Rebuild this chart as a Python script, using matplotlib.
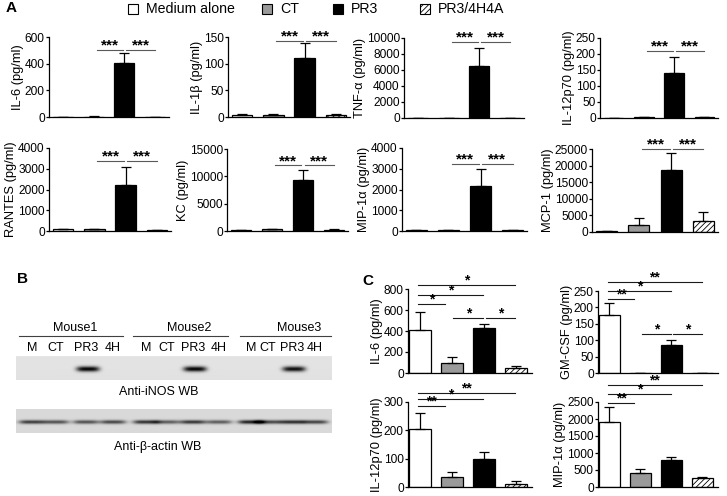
import numpy as np
import matplotlib
matplotlib.use("Agg")
import matplotlib.pyplot as plt
from matplotlib.patches import Rectangle

plt.rcParams['font.family'] = ['Liberation Sans', 'DejaVu Sans']
plt.rcParams['hatch.linewidth'] = 0.6
plt.rcParams['axes.linewidth'] = 0.9

W, H = 727, 496

groups = ['Medium alone', 'CT', 'PR3', 'PR3/4H4A']

# panel A: mean and upper error (pg/ml)
il6_a = [2, 3, 405, 2]
il6_a_err = [1, 1, 75, 1]
il1b_a = [4, 4, 111, 3]
il1b_a_err = [2, 2, 27, 2]
tnf_a = [40, 40, 6450, 30]
tnf_a_err = [10, 10, 2250, 10]
il12_a = [1, 2, 142, 2]
il12_a_err = [0.5, 1, 48, 1]
rantes_a = [100, 80, 2200, 50]
rantes_a_err = [20, 20, 900, 20]
kc_a = [100, 300, 9400, 250]
kc_a_err = [30, 100, 1800, 80]
mip_a = [50, 50, 2150, 40]
mip_a_err = [10, 10, 850, 10]
mcp_a = [300, 2200, 18600, 3200]
mcp_a_err = [100, 2100, 5200, 2700]
# height of the two "***" lines in each panel A plot
sig_a = [505, 143, 9500, 209, 3370, 12000, 3230, 25000]

# panel C
il6_c = [405, 95, 430, 50]
il6_c_err = [180, 55, 40, 15]
gmcsf_c = [178, 0, 85, 0]
gmcsf_c_err = [34, 0, 15, 0]
il12_c = [203, 35, 98, 10]
il12_c_err = [57, 17, 24, 10]
mip_c = [1900, 420, 800, 260]
mip_c_err = [450, 110, 70, 40]
# (from group, to group, level, stars)
il6_c_sig = [(0, 3, 838, '*'), (0, 2, 743, '*'), (0, 1, 657, '*'), (1, 2, 524, '*'), (2, 3, 524, '*')]
gmcsf_c_sig = [(0, 3, 277, '**'), (0, 2, 250, '*'), (0, 1, 226, '**'), (1, 2, 119, '*'), (2, 3, 119, '*')]
il12_c_sig = [(0, 3, 332, '**'), (0, 2, 311, '*'), (0, 1, 286, '**')]
mip_c_sig = [(0, 3, 3000, '**'), (0, 2, 2735, '*'), (0, 1, 2470, '**')]

# panel B: western blot band strengths per lane
lane_names = ['M', 'CT', 'PR3', '4H'] * 3
mice = ['Mouse1', 'Mouse2', 'Mouse3']
inos_band = [0, 0, 1, 0, 0, 0, 1, 0, 0, 0, 0.95, 0]
actin_band = [0.75, 0.65, 0.65, 0.7, 0.8, 0.6, 0.78, 0.6, 0.88, 0.7, 0.82, 0.72]

face = ['white', '#9a9a9a', 'black', 'white']
hatch = [None, None, None, '//////']

fig = plt.figure(figsize=(W / 100, H / 100), dpi=100)

# overlay in pixel coordinates for panel letters, legend and blot
ov = fig.add_axes([0, 0, 1, 1])
ov.patch.set_visible(False)
ov.axis('off')


def px_axes(x0, top, x1, bottom):
    return fig.add_axes([x0 / W, 1 - bottom / H, (x1 - x0) / W, (bottom - top) / H])


def bar_plot(box, vals, errs, yticks, ylabel, xlim, width=0.65):
    ax = px_axes(*box)
    x = np.arange(4)
    bars = ax.bar(x, vals, width=width, color=face, edgecolor='k', linewidth=0.9, zorder=2)
    for b, h in zip(bars, hatch):
        if h:
            b.set_hatch(h)
    ax.errorbar(x, vals, yerr=[np.zeros(4), errs], fmt='none', ecolor='k',
                elinewidth=0.9, capsize=3.6, capthick=0.9, zorder=3)
    ax.set_ylim(0, yticks[-1])
    ax.set_yticks(yticks)
    ax.set_xlim(*xlim)
    ax.set_xticks([])
    ax.spines['top'].set_visible(False)
    ax.spines['right'].set_visible(False)
    ax.tick_params(axis='y', length=2.3, width=0.9, pad=0.8, labelsize=8.6)
    ax.set_ylabel(ylabel, fontsize=9.3, labelpad=0.6)
    return ax


def stars(ax, x0, x1, y, label, color='0.25', size=9):
    ax.plot([x0, x1], [y, y], color=color, lw=0.8, clip_on=False)
    ax.annotate(label, xy=((x0 + x1) / 2, y), xytext=(0, 0.3), textcoords='offset points',
                ha='center', va='baseline', fontsize=size, fontweight='bold', annotation_clip=False)


# ---- panel A
a_xlim = (-0.45, 3.45)
a_boxes = [(49, 37, 169, 117), (228, 37, 350, 117), (404, 38, 524, 118), (600, 38, 718, 118),
           (49, 148, 171, 231), (227, 149, 348, 231), (402, 148, 527, 231), (592, 149, 718, 232)]
a_vals = [il6_a, il1b_a, tnf_a, il12_a, rantes_a, kc_a, mip_a, mcp_a]
a_errs = [il6_a_err, il1b_a_err, tnf_a_err, il12_a_err, rantes_a_err, kc_a_err, mip_a_err, mcp_a_err]
a_ticks = [[0, 200, 400, 600], [0, 50, 100, 150], [0, 2000, 4000, 6000, 8000, 10000],
           [0, 50, 100, 150, 200, 250], [0, 1000, 2000, 3000, 4000], [0, 5000, 10000, 15000],
           [0, 1000, 2000, 3000, 4000], [0, 5000, 10000, 15000, 20000, 25000]]
a_labels = ['IL-6 (pg/ml)', 'IL-1\u03b2 (pg/ml)', 'TNF-\u03b1 (pg/ml)', 'IL-12p70 (pg/ml)',
            'RANTES (pg/ml)', 'KC (pg/ml)', 'MIP-1\u03b1 (pg/ml)', 'MCP-1 (pg/ml)']
for box, v, e, t, lab, s in zip(a_boxes, a_vals, a_errs, a_ticks, a_labels, sig_a):
    ax = bar_plot(box, v, e, t, lab, a_xlim)
    stars(ax, 1.1, 1.95, s, '***', color='0.35', size=11)
    stars(ax, 2.05, 3.0, s, '***', color='0.35', size=11)

# ---- panel C
c_xlim = (-0.37, 3.5)
c_boxes = [(408, 289, 532, 373), (598, 291, 718, 373), (408, 402, 532, 487), (598, 402, 718, 487)]
c_vals = [il6_c, gmcsf_c, il12_c, mip_c]
c_errs = [il6_c_err, gmcsf_c_err, il12_c_err, mip_c_err]
c_ticks = [[0, 200, 400, 600, 800], [0, 50, 100, 150, 200, 250], [0, 100, 200, 300],
           [0, 500, 1000, 1500, 2000, 2500]]
c_labels = ['IL-6 (pg/ml)', 'GM-CSF (pg/ml)', 'IL-12p70 (pg/ml)', 'MIP-1\u03b1 (pg/ml)']
c_sigs = [il6_c_sig, gmcsf_c_sig, il12_c_sig, mip_c_sig]
for box, v, e, t, lab, sg in zip(c_boxes, c_vals, c_errs, c_ticks, c_labels, c_sigs):
    ax = bar_plot(box, v, e, t, lab, c_xlim, width=0.68)
    for i, j, lvl, lab_s in sg:
        a = i + 0.05 if i > 0 else i - 0.05
        b = j - 0.2 if (i == 0 and j == 1) else j - 0.03
        stars(ax, a, b, lvl, lab_s, color='0.1', size=10)

# ---- legend (manual, to match the uneven spacing)
leg_x = [128, 262, 333, 420]
for lx, g, f, h in zip(leg_x, groups, face, hatch):
    ov.add_patch(Rectangle((lx, 4), 10, 10, facecolor=f, edgecolor='k', hatch=h, lw=0.8))
    ov.text(lx + 18, 9, g, ha='left', va='center', fontsize=10.2)

# ---- panel B (western blot)
lane_x = np.array([32, 56, 86, 113, 146, 167, 193, 219, 251, 268, 292, 315])
mouse_x = [(19, 123, 75), (133, 228, 189), (240, 331, 299)]

xs = np.arange(16, 332) + 0.5
ys = np.arange(24) + 0.5
XX, YY = np.meshgrid(xs, ys)

inos = np.full(XX.shape, 0.895) - 0.015 * (YY / 24)
for lx, s in zip(lane_x, inos_band):
    inos -= 0.86 * s * np.exp(-((XX - lx - 2) / 11.5) ** 4) * np.exp(-((YY - 13) / 2.7) ** 2)
actin = np.full(XX.shape, 0.85)
for lx, s in zip(lane_x, actin_band):
    actin -= 0.8 * s * np.exp(-((XX - lx) / 13) ** 4) * np.exp(-((YY - 13) / 2.0) ** 2)
ov.imshow(np.clip(inos, 0, 1), cmap='gray', vmin=0, vmax=1, extent=(16, 332, 380, 356),
          aspect='auto', interpolation='bilinear')
ov.imshow(np.clip(actin, 0, 1), cmap='gray', vmin=0, vmax=1, extent=(16, 332, 433, 409),
          aspect='auto', interpolation='bilinear')

for (l0, l1, tx), name in zip(mouse_x, mice):
    ov.plot([l0, l1], [336, 336], color='0.25', lw=0.8)
    ov.text(tx, 328, name, ha='center', va='center', fontsize=9)
for lx, name in zip(lane_x, lane_names):
    ov.text(lx, 348, name, ha='center', va='center', fontsize=9)
ov.text(159, 392, 'Anti-iNOS WB', ha='center', va='center', fontsize=9)
ov.text(158, 447, 'Anti-\u03b2-actin WB', ha='center', va='center', fontsize=9)

ov.text(11, 8, 'A', ha='center', va='center', fontsize=11, fontweight='bold')
ov.text(22, 279, 'B', ha='center', va='center', fontsize=11, fontweight='bold')
ov.text(368, 281, 'C', ha='center', va='center', fontsize=11, fontweight='bold')
ov.set_xlim(0, W)
ov.set_ylim(H, 0)

fig.savefig('out.png', dpi=100)
